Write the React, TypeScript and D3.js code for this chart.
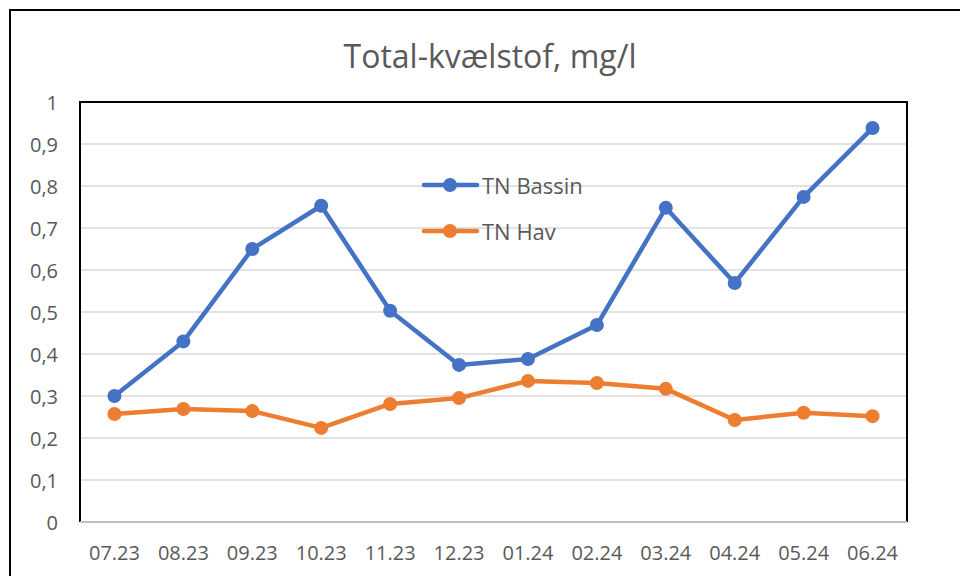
import React from 'react';
import * as d3 from 'd3';

const categories = ['07.23', '08.23', '09.23', '10.23', '11.23', '12.23', '01.24', '02.24', '03.24', '04.24', '05.24', '06.24'];
const tnBassin = [0.30, 0.43, 0.65, 0.753, 0.503, 0.374, 0.388, 0.469, 0.748, 0.569, 0.774, 0.938];
const tnHav = [0.257, 0.269, 0.264, 0.224, 0.281, 0.295, 0.336, 0.331, 0.317, 0.243, 0.26, 0.252];
const yTicks = [0, 0.1, 0.2, 0.3, 0.4, 0.5, 0.6, 0.7, 0.8, 0.9, 1];

const series = [
  { name: 'TN Bassin', values: tnBassin, color: '#4472C4' },
  { name: 'TN Hav', values: tnHav, color: '#ED7D31' },
];

const W = 960;
const H = 576;
// plot area
const left = 80, right = 907, top = 102, bottom = 522;
const font = "'Open Sans', 'Liberation Sans', sans-serif";
const textColor = '#595959';

export default function App() {
  const x = d3.scaleBand<string>().domain(categories).range([left, right]);
  const y = d3.scaleLinear().domain([0, 1]).range([bottom, top]);
  const cx = (c: string) => (x(c) ?? 0) + x.bandwidth() / 2;
  const fmt = (v: number) => (v === 0 || v === 1 ? String(v) : v.toFixed(1).replace('.', ','));

  const line = d3.line<number>()
    .x((d, i) => cx(categories[i]))
    .y(d => y(d));

  return (
    <svg width={W} height={H} style={{ position: 'absolute', left: 0, top: 0, background: '#fff' }}>
      {/* outer chart frame, runs off the right and bottom */}
      <path d={`M10,${H} V10 H${W}`} fill="none" stroke="#000" strokeWidth={2} />

      <text x={490} y={55} textAnchor="middle" dominantBaseline="central"
        fontFamily={font} fontSize={32} fill={textColor}>Total-kvælstof, mg/l</text>

      {/* gridlines */}
      {yTicks.slice(1, -1).map(t => (
        <line key={t} x1={left} x2={right} y1={y(t)} y2={y(t)} stroke="#d9d9d9" strokeWidth={1.5} />
      ))}

      {/* plot frame */}
      <path d={`M${left},${bottom} V${top} H${right} V${bottom}`} fill="none" stroke="#000" strokeWidth={2} />
      <line x1={left} x2={right} y1={bottom} y2={bottom} stroke="#bfbfbf" strokeWidth={2} />

      {/* y labels */}
      {yTicks.map(t => (
        <text key={t} x={58} y={y(t)} textAnchor="end" dominantBaseline="central"
          fontFamily={font} fontSize={20} fill={textColor}>{fmt(t)}</text>
      ))}

      {/* x labels */}
      {categories.map(c => (
        <text key={c} x={cx(c)} y={552} textAnchor="middle" dominantBaseline="central"
          fontFamily={font} fontSize={20} fill={textColor}>{c}</text>
      ))}

      {/* series */}
      {series.map(s => (
        <g key={s.name}>
          <path d={line(s.values) ?? ''} fill="none" stroke={s.color} strokeWidth={4.5} strokeLinejoin="round" strokeLinecap="round" />
          {s.values.map((v, i) => (
            <circle key={i} cx={cx(categories[i])} cy={y(v)} r={7} fill={s.color} />
          ))}
        </g>
      ))}

      {/* legend */}
      {series.map((s, i) => {
        const ly = 185 + i * 46;
        return (
          <g key={s.name}>
            <line x1={424} x2={477} y1={ly} y2={ly} stroke={s.color} strokeWidth={4.5} strokeLinecap="round" />
            <circle cx={450} cy={ly} r={7} fill={s.color} />
            <text x={482} y={ly} dominantBaseline="central" fontFamily={font} fontSize={22} fill={textColor}>{s.name}</text>
          </g>
        );
      })}
    </svg>
  );
}
